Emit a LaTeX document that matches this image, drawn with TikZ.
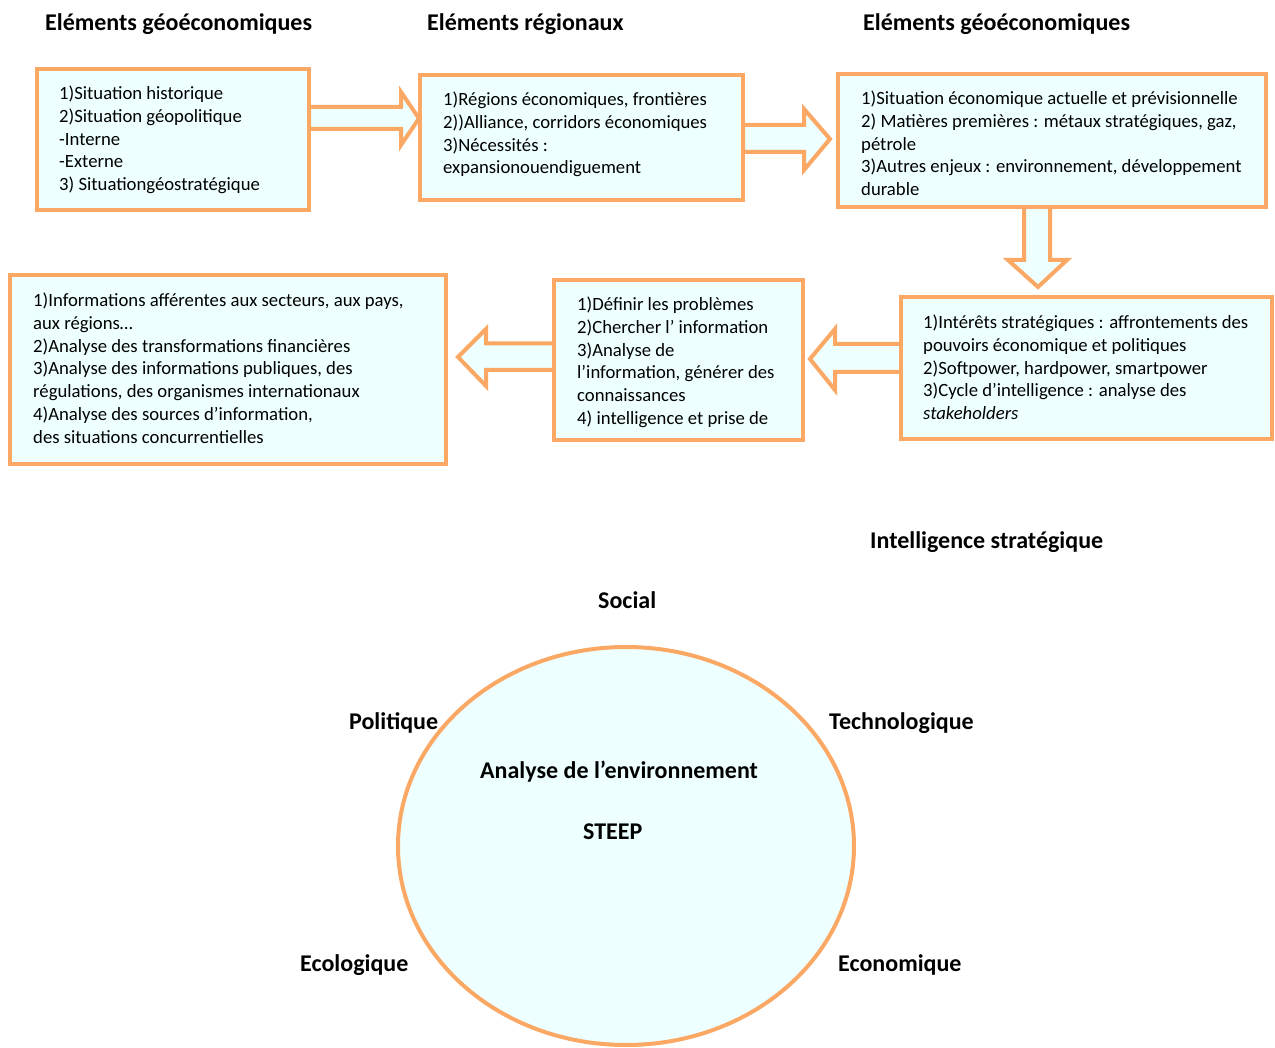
\documentclass[tikz,border=0pt]{standalone}
\usepackage{fontspec}
\setmainfont{Carlito}
\usetikzlibrary{shapes.geometric}
\definecolor{org}{RGB}{250,168,100}
\definecolor{cy}{RGB}{238,255,255}
\begin{document}
\begin{tikzpicture}[x=1pt,y=-1pt,
  box/.style={draw=org, fill=cy, line width=4.5pt, rectangle, inner sep=0pt, outer sep=0pt, anchor=north west},
  blockarrow/.style={draw=org, fill=cy, line width=4pt, line join=miter},
  body/.style={inner sep=0pt, anchor=base west, font=\fontsize{18.7}{22.8}\selectfont},
  ttl/.style={inner sep=0pt, anchor=base west, font=\fontsize{24}{28}\selectfont\bfseries}]
\useasboundingbox[fill=white] (0,0) rectangle (1275,1048);

% block arrows
\draw[blockarrow] (309,107) -- (401,107) -- (401,92) -- (419,118.5) -- (401,145) -- (401,129) -- (309,129) -- cycle;
\draw[blockarrow] (743,125) -- (804,125) -- (804,109) -- (830,139) -- (804,170) -- (804,152) -- (743,152) -- cycle;
\draw[blockarrow] (1024,207) -- (1024,260) -- (1008,260) -- (1038,287) -- (1067,260) -- (1050,260) -- (1050,207) -- cycle;
\draw[blockarrow] (901,344) -- (835,344) -- (835,329) -- (810,359) -- (835,390) -- (835,372) -- (901,372) -- cycle;
\draw[blockarrow] (554,343.5) -- (486,343.5) -- (486,329) -- (458,357) -- (486,386) -- (486,370) -- (554,370) -- cycle;

% boxes
\node[box, minimum width=272pt, minimum height=141pt] (b1) at (37,69) {};
\node[box, minimum width=323pt, minimum height=125pt] (b2) at (420,75) {};
\node[box, minimum width=428pt, minimum height=133pt] (b3) at (838,74) {};
\node[box, minimum width=371pt, minimum height=142pt] (b4) at (901,297) {};
\node[box, minimum width=249pt, minimum height=160pt] (b5) at (554,280) {};
\node[box, minimum width=436pt, minimum height=189pt] (b6) at (10,275) {};

% box texts
\node[body] (b1t) at (59,99.5) {\begin{tabular}[t]{@{}l@{}}1)Situation historique\\2)Situation géopolitique\\-Interne\\-Externe\\3) Situationgéostratégique\end{tabular}};
\node[body] (b2t) at (443,105.5) {\begin{tabular}[t]{@{}l@{}}1)Régions économiques, frontières\\2))Alliance, corridors économiques\\3)Nécessités :\\expansionouendiguement\end{tabular}};
\node[body] (b3t) at (861,104.5) {\begin{tabular}[t]{@{}l@{}}1)Situation économique actuelle et prévisionnelle\\2) Matières premières : métaux stratégiques, gaz,\\pétrole\\3)Autres enjeux : environnement, développement\\durable\end{tabular}};
\node[body] (b4t) at (923,328.5) {\begin{tabular}[t]{@{}l@{}}1)Intérêts stratégiques : affrontements des\\pouvoirs économique et politiques\\2)Softpower, hardpower, smartpower\\3)Cycle d’intelligence : analyse des\\\textit{stakeholders}\end{tabular}};
\node[body] (b5t) at (577,310.5) {\begin{tabular}[t]{@{}l@{}}1)Définir les problèmes\\2)Chercher l’ information\\3)Analyse de\\l’information, générer des\\connaissances\\4) intelligence et prise de\end{tabular}};
\node[body] (b6t) at (33,306.5) {\begin{tabular}[t]{@{}l@{}}1)Informations afférentes aux secteurs, aux pays,\\aux régions…\\2)Analyse des transformations financières\\3)Analyse des informations publiques, des\\régulations, des organismes internationaux\\4)Analyse des sources d’information,\\des situations concurrentielles\end{tabular}};

% titles
\node[ttl] (t1) at (45,31) {Eléments géoéconomiques};
\node[ttl] (t2) at (427,31) {Eléments régionaux};
\node[ttl] (t3) at (863,31) {Eléments géoéconomiques};
\node[ttl] (t4) at (870,548) {Intelligence stratégique};

% STEEP ellipse
\node[draw=org, fill=cy, line width=4pt, ellipse, inner sep=0pt, minimum width=456pt, minimum height=398pt] (env) at (626,846) {};
\node[ttl] (soc) at (598,608) {Social};
\node[ttl] (pol) at (349,729) {Politique};
\node[ttl] (tec) at (829,729) {Technologique};
\node[ttl] (ana) at (480,778) {Analyse de l’environnement};
\node[ttl] (stp) at (583,839) {STEEP};
\node[ttl] (eco) at (300,971) {Ecologique};
\node[ttl] (ecn) at (838,971) {Economique};
\end{tikzpicture}
\end{document}
